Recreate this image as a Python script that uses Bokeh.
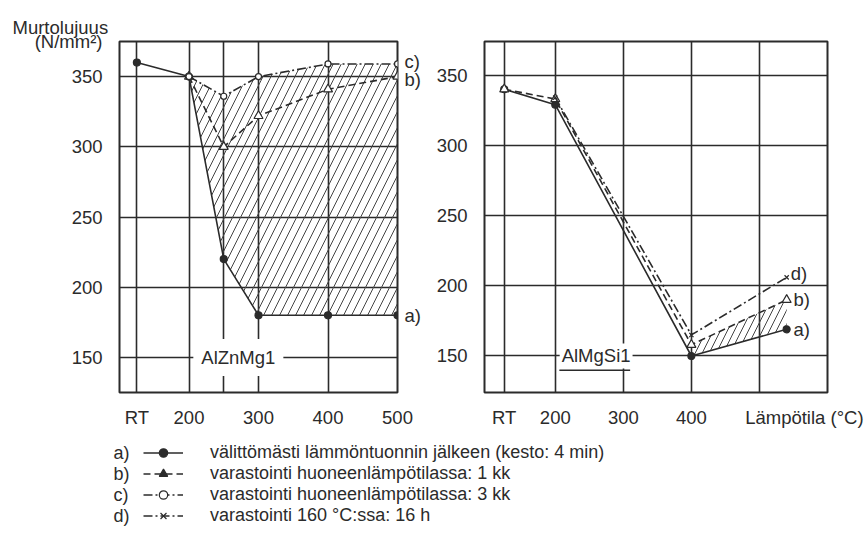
from bokeh.plotting import figure
from bokeh.models import FixedTicker, Label, Legend, LegendItem, Range1d, LinearAxis, Title
from bokeh.layouts import column, row
from bokeh.embed import file_html
from bokeh.resources import INLINE

FONT = "Liberation Sans"
INK = "#2b2b2b"
FS = "18.5px"
LFS = "18px"

# ---- data ----
RT = 125  # position used for the "RT" (room temperature) category
y_ticks = [150, 200, 250, 300, 350]
Y_UNIT_POS = 374.9
Y_TITLE = "Murtolujuus"
Y_UNIT = "(N/mm²)"

# Left panel: AlZnMg1
zn_a_x = [RT, 200, 250, 300, 400, 500]
zn_a_y = [360, 350, 220, 180, 180, 180]
zn_b_x = [200, 250, 300, 400, 500]
zn_b_y = [350, 300, 322, 341, 350]
zn_c_x = [200, 250, 300, 400, 500]
zn_c_y = [350, 336, 350, 359, 359]
zn_x_ticks = [RT, 200, 300, 400, 500]
zn_x_grid = [RT, 200, 250, 300, 400]
zn_x_labels = {RT: "RT"}

# Right panel: AlMgSi1
si_a_x = [RT, 200, 400, 540]
si_a_y = [340, 329, 150, 169]
si_b_x = [RT, 200, 400, 540]
si_b_y = [340, 333, 158, 190]
si_d_x = [200, 400, 540]
si_d_y = [334, 165, 206]
X_TITLE_POS = 566
si_x_ticks = [RT, 200, 300, 400, X_TITLE_POS]
si_x_grid = [RT, 200, 300, 400, 500]
si_x_labels = {RT: "RT", X_TITLE_POS: "Lämpötila (°C)"}

legend_keys = ["a)", "b)", "c)", "d)"]
legend_texts = [
    "välittömästi lämmöntuonnin jälkeen (kesto: 4 min)",
    "varastointi huoneenlämpötilassa: 1 kk",
    "varastointi huoneenlämpötilassa: 3 kk",
    "varastointi 160 °C:ssa: 16 h",
]

A_STYLE = dict(line_color=INK, line_width=1.6)
B_STYLE = dict(line_color=INK, line_width=1.6, line_dash="7 4")
C_STYLE = dict(line_color=INK, line_width=1.6, line_dash="9 3 2 3")
D_STYLE = dict(line_color=INK, line_width=1.6, line_dash="9 3 2 3")

H = 438


def style_axis(ax, standoff):
    ax.axis_line_color = None
    ax.major_tick_line_color = None
    ax.minor_tick_line_color = None
    ax.major_label_text_font = FONT
    ax.major_label_text_font_size = FS
    ax.major_label_text_color = INK
    ax.major_label_standoff = standoff


def panel(width, xr, yr, left, right, top, bottom, xticks, xgrid, xlabels,
          yticks, ylabels):
    p = figure(width=width, height=H, x_range=Range1d(*xr), y_range=Range1d(*yr),
               output_backend="svg", toolbar_location=None, title=None,
               min_border_left=left, min_border_right=right,
               min_border_top=top, min_border_bottom=bottom)
    p.outline_line_color = INK
    p.outline_line_width = 2
    p.xaxis.ticker = FixedTicker(ticks=xticks)
    p.xaxis.major_label_overrides = xlabels
    p.yaxis.ticker = FixedTicker(ticks=yticks)
    p.yaxis.major_label_overrides = ylabels
    for ax in p.xaxis:
        style_axis(ax, 8)
    for ax in p.yaxis:
        style_axis(ax, 11)
    p.xgrid.ticker = FixedTicker(ticks=xgrid)
    p.ygrid.ticker = FixedTicker(ticks=y_ticks)
    for g in p.grid:
        g.grid_line_color = INK
        g.grid_line_width = 1.6
    return p


def lab(p, x, y, text, align="left", **kw):
    p.add_layout(Label(x=x, y=y, text=text, text_align=align, text_baseline="middle",
                       text_font=FONT, text_font_size=FS, text_color=INK, **kw))


def series(p, x, y, style, marker, size, fill):
    p.line(x, y, **style)
    p.scatter(x, y, marker=marker, size=size, fill_color=fill, line_color=INK, line_width=1.2)


# ---- left panel ----
p1 = panel(433, (100, 500), (125, 375), 119, 36, 41, 45, zn_x_ticks, zn_x_grid, zn_x_labels,
           y_ticks + [Y_UNIT_POS], {Y_UNIT_POS: Y_UNIT})
k = zn_a_x.index(zn_c_x[0])
hx = zn_c_x + zn_a_x[k:][::-1]
hy = zn_c_y + zn_a_y[k:][::-1]
p1.patch(hx, hy, fill_color=None, line_color=None, hatch_pattern="/",
         hatch_color="#444444", hatch_weight=1, hatch_scale=16)
series(p1, zn_a_x, zn_a_y, A_STYLE, "circle", 7, INK)
series(p1, zn_b_x, zn_b_y, B_STYLE, "triangle", 9, "white")
series(p1, zn_c_x, zn_c_y, C_STYLE, "circle", 6, "white")
# end-of-line series keys on a right-hand axis
end_ticks = [zn_c_y[-1] + 2, zn_b_y[-1] - 2, zn_a_y[-1]]
end_axis = LinearAxis(ticker=FixedTicker(ticks=end_ticks),
                      major_label_overrides=dict(zip(end_ticks, ["c)", "b)", "a)"])))
style_axis(end_axis, 1)
p1.add_layout(end_axis, "right")
lab(p1, 271, 150, "AlZnMg1", align="center", background_fill_color="white", padding=8)
p1.segment(x0=[210], y0=[139.8], x1=[329], y1=[139.8], line_color=INK, line_width=1.5)
p1.add_layout(Title(text=Y_TITLE, align="left", offset=-107, standoff=7,
                    text_font=FONT, text_font_size=FS, text_font_style="normal",
                    text_color=INK), "above")

# ---- right panel ----
p2 = panel(433, (96, 600), (124, 374), 45, 39, 40, 46, si_x_ticks, si_x_grid, si_x_labels,
           y_ticks, {})
i0 = si_b_x.index(400)
j0 = si_a_x.index(400)
hx2 = si_b_x[i0:] + si_a_x[j0:][::-1]
hy2 = si_b_y[i0:] + si_a_y[j0:][::-1]
p2.patch(hx2, hy2, fill_color=None, line_color=None, hatch_pattern="/",
         hatch_color="#444444", hatch_weight=1, hatch_scale=14)
series(p2, si_a_x, si_a_y, A_STYLE, "circle", 7, INK)
series(p2, si_b_x, si_b_y, B_STYLE, "triangle", 9, "white")
series(p2, si_d_x, si_d_y, D_STYLE, "x", 6, INK)
lab(p2, 546, si_d_y[-1] + 3, "d)")
lab(p2, 550, si_b_y[-1], "b)")
lab(p2, 550, si_a_y[-1], "a)")
lab(p2, 260, 150, "AlMgSi1", align="center", background_fill_color="white", padding=2)
p2.segment(x0=[206], y0=[139.9], x1=[310], y1=[139.9], line_color=INK, line_width=1.5)

# ---- legend panel ----
p3 = figure(width=866, height=102, x_range=Range1d(0, 866), y_range=Range1d(0, 102),
            output_backend="svg", toolbar_location=None, title=None,
            x_axis_type=None, y_axis_type=None, min_border=0)
p3.outline_line_color = None
p3.grid.visible = False
styles = [(A_STYLE, "circle", 6, INK), (B_STYLE, "triangle", 8, INK),
          (C_STYLE, "circle", 5, "white"), (D_STYLE, "x", 5, INK)]
items = []
for (st, mk, sz, fc), txt in zip(styles, legend_texts):
    # off-canvas placeholder renderers that only provide the legend swatches
    rl = p3.line([-50, -40], [-50, -50], **st)
    rs = p3.scatter([-45], [-50], marker=mk, size=sz, fill_color=fc, line_color=INK, line_width=1.2)
    items.append(LegendItem(label=txt, renderers=[rl, rs]))
leg = Legend(items=items, location=(143, 14), orientation="vertical", glyph_width=40,
             glyph_height=21, label_height=21, label_standoff=27, spacing=0, padding=0,
             margin=0, border_line_color=None, background_fill_alpha=0,
             label_text_font=FONT, label_text_font_size=LFS, label_text_color=INK)
p3.add_layout(leg)
for i, key in enumerate(legend_keys):
    p3.add_layout(Label(x=113, y=88 - 21 * i, text=key, text_align="left",
                        text_baseline="middle", text_font=FONT, text_font_size=LFS,
                        text_color=INK))

layout = column(row(p1, p2), p3)
open("out.html", "w").write(file_html(layout, INLINE))
